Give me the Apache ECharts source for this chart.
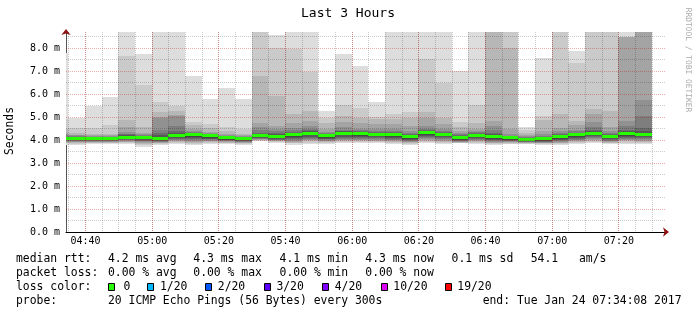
<!DOCTYPE html>
<html><head><meta charset="utf-8">
<script src="https://cdn.jsdelivr.net/npm/echarts@6/dist/echarts.min.js"></script>
<style>html,body{margin:0;padding:0;background:#fff}#c{width:697px;height:315px}</style>
</head><body><div id="c"></div>
<script>
// ---------- data ----------
const axisStart = '04:34:08';
const axisEnd = '07:34:08';
const barStarts = ['04:30','04:35','04:40','04:45','04:50','04:55','05:00','05:05','05:10','05:15','05:20','05:25',
  '05:30','05:35','05:40','05:45','05:50','05:55','06:00','06:05','06:10','06:15','06:20','06:25',
  '06:30','06:35','06:40','06:45','06:50','06:55','07:00','07:05','07:10','07:15','07:20','07:25'];
// sorted ping round-trip times per 5-minute step (ms), p01 = fastest ... p20 = slowest
const p01 = [3.80,3.80,3.82,3.82,3.82,3.71,3.80,3.83,3.79,3.83,3.81,3.80,3.94,3.88,3.80,3.83,3.82,3.85,3.85,3.86,3.82,3.80,3.87,3.83,3.85,3.84,3.80,3.81,3.82,3.79,3.80,3.82,3.88,3.81,3.84,3.83];
const p02 = [3.85,3.84,3.86,3.85,3.86,3.77,3.84,3.88,3.84,3.87,3.85,3.84,3.97,3.91,3.85,3.89,3.87,3.90,3.90,3.90,3.86,3.84,3.92,3.88,3.87,3.88,3.83,3.84,3.84,3.82,3.83,3.86,3.92,3.85,3.89,3.88];
const p03 = [3.88,3.87,3.89,3.88,3.90,3.82,3.87,3.93,3.89,3.91,3.88,3.87,3.99,3.94,3.89,3.94,3.91,3.94,3.94,3.94,3.90,3.87,3.96,3.92,3.89,3.92,3.86,3.87,3.86,3.85,3.86,3.90,3.96,3.88,3.94,3.92];
const p04 = [3.90,3.90,3.91,3.90,3.93,3.86,3.89,3.97,3.93,3.94,3.91,3.89,4.01,3.96,3.93,3.98,3.94,3.98,3.98,3.97,3.94,3.90,4.00,3.96,3.91,3.95,3.89,3.90,3.88,3.87,3.89,3.94,4.00,3.91,3.98,3.96];
const p05 = [3.92,3.92,3.93,3.92,3.96,3.90,3.91,4.00,3.97,3.97,3.94,3.91,4.03,3.98,3.97,4.02,3.97,4.02,4.02,4.00,3.98,3.93,4.04,4.00,3.93,3.98,3.92,3.92,3.90,3.89,3.92,3.98,4.04,3.94,4.02,4.00];
const p06 = [3.94,3.94,3.95,3.94,3.98,3.94,3.93,4.02,4.00,4.00,3.96,3.93,4.05,4.00,4.01,4.06,4.00,4.06,4.06,4.04,4.02,3.96,4.08,4.04,3.95,4.01,3.95,3.94,3.91,3.91,3.95,4.02,4.08,3.97,4.06,4.04];
const p07 = [3.96,3.96,3.97,3.96,4.00,3.97,3.95,4.05,4.04,4.03,3.98,3.95,4.07,4.02,4.05,4.10,4.03,4.10,4.10,4.08,4.06,3.99,4.12,4.08,3.97,4.04,3.98,3.96,3.92,3.93,3.98,4.06,4.12,4.00,4.10,4.08];
const p08 = [3.98,3.98,3.99,3.98,4.03,4.00,3.97,4.08,4.08,4.06,4.00,3.97,4.09,4.05,4.09,4.15,4.06,4.15,4.14,4.12,4.10,4.02,4.16,4.12,3.99,4.07,4.01,3.98,3.94,3.95,4.01,4.10,4.17,4.03,4.14,4.12];
const p09 = [4.00,4.00,4.01,4.00,4.06,4.03,3.99,4.12,4.12,4.10,4.02,3.99,4.12,4.08,4.13,4.20,4.10,4.20,4.19,4.16,4.15,4.06,4.21,4.16,4.02,4.11,4.05,4.01,3.96,3.97,4.05,4.14,4.22,4.07,4.19,4.16];
const p10 = [4.02,4.03,4.04,4.03,4.10,4.07,4.02,4.17,4.18,4.14,4.05,4.02,4.16,4.12,4.18,4.26,4.15,4.26,4.24,4.21,4.20,4.11,4.27,4.21,4.06,4.16,4.10,4.05,3.98,4.00,4.10,4.19,4.27,4.12,4.24,4.22];
const p11 = [4.08,4.09,4.09,4.08,4.17,4.13,4.09,4.25,4.25,4.20,4.11,4.08,4.22,4.19,4.25,4.33,4.22,4.33,4.31,4.28,4.28,4.19,4.34,4.28,4.13,4.23,4.18,4.11,4.06,4.06,4.18,4.26,4.33,4.19,4.31,4.29];
const p12 = [4.10,4.10,4.10,4.09,4.19,4.15,4.13,4.27,4.27,4.21,4.12,4.09,4.24,4.21,4.27,4.35,4.23,4.35,4.33,4.29,4.29,4.20,4.36,4.30,4.15,4.24,4.20,4.12,4.07,4.07,4.19,4.27,4.35,4.20,4.33,4.32];
const p13 = [4.12,4.12,4.11,4.11,4.21,4.17,4.20,4.30,4.28,4.23,4.13,4.10,4.27,4.25,4.30,4.38,4.25,4.37,4.35,4.31,4.31,4.22,4.38,4.32,4.17,4.26,4.24,4.13,4.08,4.09,4.21,4.29,4.38,4.22,4.37,4.40];
const p14 = [4.15,4.14,4.13,4.13,4.24,4.19,4.30,4.39,4.30,4.25,4.15,4.12,4.32,4.30,4.34,4.42,4.27,4.40,4.38,4.34,4.34,4.25,4.42,4.35,4.20,4.29,4.30,4.15,4.10,4.12,4.24,4.32,4.42,4.25,4.45,4.54];
const p15 = [4.20,4.17,4.15,4.15,4.28,4.22,4.42,4.61,4.33,4.27,4.17,4.14,4.42,4.39,4.42,4.50,4.30,4.45,4.42,4.40,4.40,4.30,4.48,4.40,4.24,4.33,4.45,4.18,4.13,4.17,4.30,4.37,4.55,4.30,4.61,5.04];
const p16 = [4.25,4.20,4.17,4.17,4.35,4.26,4.97,5.05,4.38,4.30,4.20,4.16,4.58,4.50,4.54,4.61,4.35,4.55,4.50,4.50,4.50,4.40,4.61,4.50,4.30,4.40,4.61,4.25,4.17,4.25,4.38,4.45,4.78,4.40,4.83,5.74];
const p17 = [4.30,4.22,4.20,4.20,4.57,4.32,5.00,5.07,4.46,4.35,4.25,4.20,4.75,4.61,4.75,4.83,4.50,4.78,4.75,4.68,4.68,4.61,4.97,4.70,4.40,4.50,4.83,4.46,4.22,4.40,4.54,4.65,5.12,4.57,8.49,8.80];
const p18 = [4.50,4.29,4.25,4.25,4.87,4.57,5.22,5.26,4.67,4.54,4.39,4.28,6.78,5.92,5.14,5.27,4.75,5.04,4.97,4.90,4.90,4.97,5.22,4.94,4.57,4.74,8.80,8.00,4.32,4.86,5.12,4.83,5.36,5.26,8.49,8.80];
const p19 = [4.90,4.54,4.51,4.65,7.65,6.39,5.65,5.48,4.78,4.68,4.57,4.49,8.80,8.00,7.97,6.97,4.97,5.52,5.41,5.01,5.12,5.22,7.51,6.46,4.80,5.52,8.80,8.80,4.45,5.04,8.80,7.36,8.80,8.80,8.49,8.80];
const p20 = [7.77,4.97,5.48,5.88,8.80,7.75,8.80,8.80,6.78,5.80,6.28,5.80,8.80,8.55,8.80,8.80,5.26,7.75,7.22,5.65,8.80,8.80,8.80,8.80,6.98,8.80,8.80,8.80,4.57,7.58,8.80,7.87,8.80,8.80,8.80,8.80];
const median = [4.05,4.06,4.07,4.06,4.13,4.10,4.05,4.21,4.23,4.18,4.10,4.07,4.20,4.15,4.22,4.30,4.20,4.30,4.27,4.24,4.24,4.15,4.31,4.25,4.09,4.20,4.14,4.09,4.04,4.05,4.14,4.23,4.30,4.17,4.27,4.23];

const xMajorTicks = ['04:40','05:00','05:20','05:40','06:00','06:20','06:40','07:00','07:20'];
const xMinorTicks = ['04:35','04:40','04:45','04:50','04:55','05:00','05:05','05:10','05:15','05:20','05:25','05:30',
  '05:35','05:40','05:45','05:50','05:55','06:00','06:05','06:10','06:15','06:20','06:25','06:30',
  '06:35','06:40','06:45','06:50','06:55','07:00','07:05','07:10','07:15','07:20','07:25','07:30'];
const yMajorTicks = [1,2,3,4,5,6,7,8];
const yMinorTicks = [0.5,1.5,2.5,3.5,4.5,5.5,6.5,7.5,8.5];
const yAxisMax = 8.696;

const titleText = 'Last 3 Hours';
const unitText = 'Seconds';
const watermark = 'RRDTOOL / TOBI OETIKER';
const rttStats = ['4.2 ms avg','4.3 ms max','4.1 ms min','4.3 ms now','0.1 ms sd','54.1','am/s'];
const lossStats = ['0.00 % avg','0.00 % max','0.00 % min','0.00 % now'];
const lossLabels = ['0','1/20','2/20','3/20','4/20','10/20','19/20'];
const lossColors = ['#26ff00','#00b8ff','#0059ff','#5e00ff','#7e00ff','#dd00ff','#ff0000'];
const probeText = '20 ICMP Echo Pings (56 Bytes) every 300s';
const endText = 'end: Tue Jan 24 07:34:08 2017';

// ---------- build ----------
const FONT = '"DejaVu Sans Mono", monospace';
const toMin = s => { const a = s.split(':').map(Number); return a[0]*60 + a[1] + (a[2]||0)/60; };
const tMin = toMin(axisStart), tMax = toMin(axisEnd);
const STEP = 5;
const ranks = [p01,p02,p03,p04,p05,p06,p07,p08,p09,p10,p11,p12,p13,p14,p15,p16,p17,p18,p19,p20];

const smokeData = [];
for (let k = 0; k < 10; k++) {
  for (let i = 0; i < barStarts.length; i++) {
    const s = toMin(barStarts[i]);
    smokeData.push([s, s + STEP, ranks[k][i], ranks[19 - k][i], k]);
  }
}
const shade = k => { const g = Math.floor(190/10*(10-(k+1))) + 50; return 'rgb(' + g + ',' + g + ',' + g + ')'; };
const medData = barStarts.map((b, i) => [toMin(b), toMin(b) + STEP, median[i]]);

const gridData = [];
xMinorTicks.forEach(t => gridData.push([toMin(t), 0]));
yMinorTicks.forEach(v => gridData.push([v, 2]));
xMajorTicks.forEach(t => gridData.push([toMin(t), 1]));
yMajorTicks.forEach(v => gridData.push([v, 3]));
const MINOR = 'rgba(0,0,0,0.2)';
const MAJOR = 'rgba(200,0,0,0.32)';

const xTickMins = xMajorTicks.map(toMin);
const px = v => Math.floor(v + 1e-6);

const option = {
  animation: false,
  backgroundColor: '#fff',
  grid: { left: 66, top: 32, width: 600, height: 200 },
  xAxis: [{
    type: 'value', min: tMin, max: tMax,
    axisLine: { show: true, lineStyle: { color: '#000', width: 1 } },
    axisTick: { show: false },
    splitLine: { show: false },
    axisLabel: {
      customValues: xTickMins,
      formatter: v => { const i = xTickMins.findIndex(m => Math.abs(m - v) < 1e-6); return i >= 0 ? xMajorTicks[i] : ''; },
      fontFamily: FONT, fontSize: 10, color: '#000', margin: 4, lineHeight: 10
    }
  }, {
    type: 'value', min: tMin, max: tMax, position: 'bottom',
    axisLine: { show: true, symbol: ['none', 'arrow'], symbolSize: [7, 6], symbolOffset: [0, 3], lineStyle: { color: '#8e1414', width: 0 } },
    axisTick: { show: false }, axisLabel: { show: false }, splitLine: { show: false }
  }],
  yAxis: [{
    type: 'value', min: 0, max: yAxisMax, interval: 1,
    axisLine: { show: true, lineStyle: { color: '#555', width: 1 } },
    axisTick: { show: false },
    splitLine: { show: false },
    axisLabel: {
      formatter: v => Math.abs(v - Math.round(v)) < 1e-6 ? v.toFixed(1) + ' m' : '',
      fontFamily: FONT, fontSize: 10, color: '#000', margin: 6
    }
  }, {
    type: 'value', min: 0, max: yAxisMax, position: 'left',
    axisLine: { show: true, symbol: ['none', 'arrow'], symbolSize: [7, 6], symbolOffset: [0, 3], lineStyle: { color: '#8e1414', width: 0 } },
    axisTick: { show: false }, axisLabel: { show: false }, splitLine: { show: false }
  }],
  series: [{
    type: 'custom', name: 'smoke', silent: true, z: 2,
    data: smokeData,
    encode: { x: [0, 1], y: [2, 3] },
    renderItem: (params, api) => {
      const a = api.coord([api.value(0), api.value(3)]);
      const b = api.coord([api.value(1), api.value(2)]);
      const x0 = px(a[0]), x1 = px(b[0]);
      const y0 = Math.round(a[1]), y1 = Math.round(b[1]);
      const cs = params.coordSys;
      const shape = echarts.graphic.clipRectByRect(
        { x: x0, y: y0, width: x1 - x0, height: Math.max(1, y1 - y0) },
        { x: cs.x, y: cs.y, width: cs.width, height: cs.height });
      if (!shape) return null;
      return { type: 'rect', shape: shape, style: { fill: shade(api.value(4)) } };
    }
  }, {
    type: 'custom', name: 'median rtt', silent: true, z: 3,
    data: medData,
    encode: { x: [0, 1], y: 2 },
    renderItem: (params, api) => {
      const a = api.coord([api.value(0), api.value(2)]);
      const b = api.coord([api.value(1), api.value(2)]);
      const cs = params.coordSys;
      const shape = echarts.graphic.clipRectByRect(
        { x: px(a[0]), y: Math.round(a[1] - 1.5), width: px(b[0]) - px(a[0]), height: 3 },
        { x: cs.x, y: cs.y, width: cs.width, height: cs.height });
      if (!shape) return null;
      return { type: 'rect', shape: shape, style: { fill: lossColors[0] } };
    }
  }, {
    type: 'custom', name: 'grid', silent: true, z: 4,
    data: gridData,
    encode: { x: 0, y: 1 },
    renderItem: (params, api) => {
      const v = api.value(0), kind = api.value(1);
      const cs = params.coordSys;
      const color = (kind === 1 || kind === 3) ? MAJOR : MINOR;
      if (kind < 2) {
        const x = px(api.coord([v, 0])[0]) + 0.5;
        return { type: 'line', shape: { x1: x, y1: cs.y, x2: x, y2: cs.y + cs.height }, style: { stroke: color, lineWidth: 1, lineDash: [1, 1] } };
      }
      const y = px(api.coord([tMin, v])[1]) + 0.5;
      return { type: 'line', shape: { x1: cs.x, y1: y, x2: cs.x + cs.width, y2: y }, style: { stroke: color, lineWidth: 1, lineDash: [1, 1] } };
    }
  }],
  graphic: []
};

const G = option.graphic;
const txt = (x, y, text, size, extra) => G.push(Object.assign({
  type: 'text', x: x, y: y, silent: true,
  style: Object.assign({ text: text, font: size + 'px ' + FONT, fill: '#000', textAlign: 'left', textVerticalAlign: 'middle' }, (extra && extra.style) || {})
}, extra && extra.rotation !== undefined ? { rotation: extra.rotation } : {}));

txt(348, 14, titleText, 13, { style: { textAlign: 'center' } });
txt(10.5, 131, unitText, 11.4, { rotation: Math.PI / 2, style: { textAlign: 'center' } });
txt(688, 60, watermark, 7.9, { rotation: -Math.PI / 2, style: { textAlign: 'center', fill: '#aaaaaa' } });

const LS = 11.4;
const rowY = [259.3, 273.3, 287.3, 301.3];
const statX = [108, 193.3, 279.6, 365.3, 451.6, 530.7, 579];
txt(16, rowY[0], 'median rtt:', LS);
rttStats.forEach((s, i) => txt(statX[i], rowY[0], s, LS));
txt(16, rowY[1], 'packet loss:', LS);
lossStats.forEach((s, i) => txt(statX[i], rowY[1], s, LS));
txt(16, rowY[2], 'loss color:', LS);
const lossLabelX = [123.5, 160, 217.8, 276.4, 334.7, 393.3, 457.3];
const lossBoxX = [108, 147.3, 205, 263.7, 322, 380.6, 444.6];
lossLabels.forEach((s, i) => {
  G.push({ type: 'rect', silent: true, shape: { x: Math.round(lossBoxX[i]) + 0.5, y: 283.5, width: 6, height: 7 },
    style: { fill: lossColors[i], stroke: '#000', lineWidth: 1 } });
  txt(lossLabelX[i], rowY[2], s, LS);
});
txt(16, rowY[3], 'probe:', LS);
txt(108, rowY[3], probeText, LS);
txt(681.5, rowY[3], endText, LS, { style: { textAlign: 'right' } });

const chart = echarts.init(document.getElementById('c'), null, { renderer: 'canvas' });
chart.setOption(option);
</script></body></html>
